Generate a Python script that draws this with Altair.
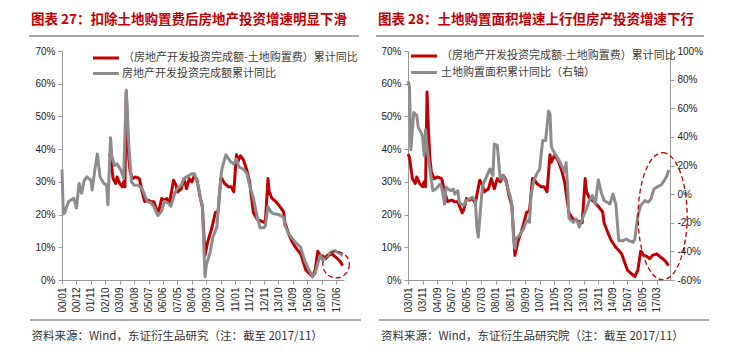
import altair as alt
import pandas as pd

RED = "#C00000"
GRAY = "#8C8C8C"
CJK = "Noto Sans CJK SC"
LAT = "Liberation Sans"

# ---- series A: （房地产开发投资完成额-土地购置费）累计同比 (%), used in both panels
A_DATES = ["2003-01", "2003-02", "2003-04", "2003-06", "2003-07", "2003-09", "2003-11", "2003-12",
           "2004-01", "2004-02", "2004-03", "2004-04", "2004-05", "2004-07", "2004-09", "2004-12",
           "2005-02", "2005-04", "2005-07", "2005-09", "2005-11", "2006-02", "2006-03", "2006-05",
           "2006-07", "2006-09", "2006-11", "2007-02", "2007-04", "2007-05", "2007-08", "2007-10",
           "2007-12", "2008-02", "2008-04", "2008-06", "2008-08", "2008-10", "2008-12", "2009-01",
           "2009-02", "2009-04", "2009-07", "2009-10", "2009-12", "2010-02", "2010-03", "2010-05",
           "2010-08", "2010-10", "2010-12", "2011-02", "2011-03", "2011-05", "2011-07", "2011-08",
           "2011-10", "2011-12", "2012-02", "2012-03", "2012-06", "2012-09", "2012-12", "2013-02",
           "2013-03", "2013-05", "2013-08", "2013-11", "2014-02", "2014-03", "2014-06", "2014-08",
           "2014-11", "2015-03", "2015-05", "2015-07", "2015-09", "2015-12", "2016-02", "2016-04",
           "2016-06", "2016-08", "2016-10", "2016-12", "2017-03", "2017-05", "2017-07", "2017-09",
           "2017-11"]
A_VALS = [38.5, 37.5, 31, 29.5, 31.5, 29.5, 28.5, 30,
          28.5, 57.5, 46, 37, 33, 31, 31.5, 31,
          27, 24, 24.4, 23.9, 23.9, 20.5, 21.3, 24.9,
          24.4, 24.9, 23.5, 30.5, 29, 26.9, 27.9, 31,
          27.9, 31, 30, 32, 30.5, 25.9, 22.5, 14.7,
          7.5, 11.5, 15.5, 20.7, 21, 31, 31, 29.5,
          28.5, 28.5, 27, 38.3, 36, 38, 37, 36,
          33.5, 30, 23.5, 20.5, 18.5, 18, 17.5, 31,
          27, 25, 24, 22.5, 20.8, 17.5, 14, 12,
          10, 8, 5.5, 3, 2.2, 1.0, 3.0, 8.8,
          7.5, 7.3, 6.5, 7.5, 8.0, 7.2, 6.5, 5.7,
          4.4]

# ---- series B: 房地产开发投资完成额累计同比 (%)
B_DATES = ["2000-01", "2000-02", "2000-03", "2000-06", "2000-10", "2000-12", "2001-02", "2001-04",
           "2001-06", "2001-08", "2001-11", "2001-12", "2002-02", "2002-04", "2002-06", "2002-09",
           "2002-11", "2002-12", "2003-02", "2003-03", "2003-05", "2003-07", "2003-10", "2003-12",
           "2004-02", "2004-04", "2004-06", "2004-08", "2004-11", "2005-02", "2005-04", "2005-06",
           "2005-09", "2005-11", "2006-02", "2006-05", "2006-07", "2006-10", "2006-12", "2007-03",
           "2007-05", "2007-08", "2007-10", "2008-02", "2008-04", "2008-06", "2008-09", "2008-11",
           "2008-12", "2009-02", "2009-03", "2009-06", "2009-08", "2009-11", "2010-02", "2010-03",
           "2010-06", "2010-08", "2010-10", "2010-12", "2011-02", "2011-04", "2011-07", "2011-10",
           "2011-12", "2012-03", "2012-06", "2012-08", "2012-11", "2012-12", "2013-02", "2013-04",
           "2013-06", "2013-10", "2014-02", "2014-03", "2014-06", "2014-09", "2014-11", "2015-03",
           "2015-06", "2015-09", "2015-12", "2016-02", "2016-04", "2016-06", "2016-08", "2016-10",
           "2017-02", "2017-05", "2017-07", "2017-09", "2017-11"]
B_VALS = [33.8, 20.2, 20.5, 24, 25, 22, 29.5, 26.5,
          30.5, 31.5, 30.5, 27.5, 33.6, 38.5, 31.5, 29.5,
          29, 23, 43.5, 38, 35, 35.5, 33.5, 31,
          58, 41, 30, 29, 29, 28, 26, 24,
          23.5, 22.5, 19.7, 21, 24, 23.5, 22.5, 26.5,
          28, 29, 31, 32, 32.5, 32.5, 28.6, 24,
          22.5, 1.0, 4.5, 8.5, 13, 16, 31, 34,
          38.3, 37, 36, 35.5, 37, 34.5, 34, 32.5,
          29, 25, 19, 16, 16, 16.5, 22.5, 21,
          20.3, 20, 19.2, 16.7, 14, 12.5, 11.5, 10,
          6, 3.4, 1.0, 2, 5, 7.5, 6, 7,
          8.5, 9, 8.5, 8, 7.5]

# ---- series C: 土地购置面积累计同比 (%, right axis)
C_DATES = ["2003-01", "2003-02", "2003-03", "2003-05", "2003-07", "2003-08", "2003-10", "2003-11",
           "2003-12", "2004-01", "2004-02", "2004-04", "2004-06", "2004-08", "2004-11", "2004-12",
           "2005-02", "2005-03", "2005-06", "2005-08", "2005-09", "2005-11", "2005-12", "2006-03",
           "2006-05", "2006-07", "2006-09", "2006-11", "2006-12", "2007-01", "2007-03", "2007-04",
           "2007-07", "2007-09", "2007-11", "2007-12", "2008-02", "2008-04", "2008-06", "2008-08",
           "2008-11", "2008-12", "2009-01", "2009-02", "2009-03", "2009-05", "2009-08", "2009-10",
           "2009-12", "2010-01", "2010-03", "2010-05", "2010-07", "2010-09", "2010-11", "2011-01",
           "2011-02", "2011-03", "2011-05", "2011-08", "2011-10", "2011-12", "2012-01", "2012-02",
           "2012-03", "2012-06", "2012-08", "2012-10", "2012-12", "2013-03", "2013-05", "2013-07",
           "2013-09", "2013-11", "2014-01", "2014-03", "2014-05", "2014-07", "2014-09", "2014-11",
           "2015-01", "2015-04", "2015-06", "2015-08", "2015-11", "2015-12", "2016-02", "2016-04",
           "2016-07", "2016-09", "2016-11", "2017-01", "2017-04", "2017-06", "2017-08", "2017-10",
           "2017-11"]
C_VALS = [79, 75, 31, 57, 55, 47, 43, 40,
          27, 45, 32, 17.6, 2.4, 3.6, 7, 4.8,
          -7, 4.8, 2.4, 3.6, 0, 2.4, -5.7, -8,
          -4.5, -3.3, -2.2, -4.5, -22, -30, -5.7, 5.9,
          12.9, 17.6, 12.9, 35, 34, 10.6, 12.9, 8.2,
          -2.2, -8, -29, -38, -31, -29, -24.3, -18.5,
          -19.6, -1, 9.4, 14, 17.6, 37.4, 37.4, 58,
          56, 33, 29, 24, 20, 15.3, 22, 6,
          -17, -19.7, -17.4, -23, -17.4, -10.3, -4.5, -1,
          -6.9, 10, 1.3, -4.5, -5.7, -6.9, 0, -6.9,
          -32.5, -32.5, -31.3, -32.5, -33.6, -31.3, -15, -8,
          -4.5, -5.7, -3.4, 3.6, 5.5, 6.4, 9.4, 13,
          17]

LEFT_TICKS = ["00/01", "00/12", "01/11", "02/10", "03/09", "04/08", "05/07", "06/06", "07/05", "08/04",
              "09/03", "10/02", "11/01", "11/12", "12/11", "13/10", "14/09", "15/08", "16/07", "17/06"]
RIGHT_TICKS = ["03/01", "03/11", "04/09", "05/07", "06/05", "07/03", "08/01", "08/11", "09/09",
               "10/07", "11/05", "12/03", "13/01", "13/11", "14/09", "15/07", "16/05", "17/03"]
Y_LEFT_TICKS = [0, 10, 20, 30, 40, 50, 60, 70]
Y_RIGHT_TICKS = [-60, -40, -20, 0, 20, 40, 60, 80, 100]

NAME_A = "（房地产开发投资完成额-土地购置费）累计同比"
NAME_B = "房地产开发投资完成额累计同比"
NAME_C = "土地购置面积累计同比（右轴）"
TITLE_L = "图表 27：扣除土地购置费后房地产投资增速明显下滑"
TITLE_R = "图表 28：土地购置面积增速上行但房产投资增速下行"
FOOT_L = "资料来源：Wind，东证衍生品研究（注：截至 2017/11）"
FOOT_R = "资料来源：Wind，东证衍生品研究院（注：截至 2017/11）"

# highlight ellipses (data coords)
ANNOT_L = {"date": ["2017-06"], "value": [4.7]}
ANNOT_R = {"date": ["2017-07"], "value": [19.5]}


def to_df(dates, vals):
    return pd.DataFrame({"date": [d.replace("-", "/") + "/01" for d in dates], "value": vals})


def dt(label):
    yy, mm = label.split("/")
    return alt.DateTime(year=2000 + int(yy), month=int(mm), date=1)


def xaxis(ticks):
    return alt.Axis(values=[dt(t) for t in ticks], format="%y/%m", labelAngle=270, labelAlign="right",
                    labelBaseline="middle", labelFont=LAT, labelFontSize=10, labelColor="#222222",
                    labelPadding=3, labelOverlap=False, labelFlush=False, domainColor="#999999",
                    tickColor="#999999", tickSize=4, grid=False, title=None)


def yaxis(ticks, orient="left"):
    return alt.Axis(values=ticks, labelExpr="datum.value + '%'", orient=orient, labelFont=LAT,
                    labelFontSize=10, labelColor="#222222", labelPadding=3, domainColor="#999999",
                    tickColor="#999999", tickSize=4, grid=False, title=None, labelFlush=False)


def line(df, color, xs, xa, ys, ya):
    return alt.Chart(df).mark_line(color=color, strokeWidth=3, strokeJoin="round").encode(
        x=alt.X("date:T", scale=xs, axis=xa),
        y=alt.Y("value:Q", scale=ys, axis=ya),
    )


def ellipse(d, xs, xa, ys, ya, path, size):
    df = to_df(d["date"], d["value"])
    return alt.Chart(df).mark_point(shape=path, size=size, filled=False, color=RED, opacity=1,
                                    strokeWidth=1.3, strokeDash=[5, 3]).encode(
        x=alt.X("date:T", scale=xs, axis=xa),
        y=alt.Y("value:Q", scale=ys, axis=ya),
    )


def one():
    return pd.DataFrame({"k": [0]})


def text(txt, x, y, size, color, weight="normal"):
    return alt.Chart(one()).mark_text(align="left", baseline="middle", font=CJK, fontSize=size,
                                      fontWeight=weight, color=color).encode(
        x=alt.value(x), y=alt.value(y), text=alt.value(txt))


def hrule(x1, x2, y, color, width):
    return alt.Chart(one()).mark_rule(color=color, strokeWidth=width).encode(
        x=alt.value(x1), x2=alt.value(x2), y=alt.value(y))


H = 229
# ---------------- left panel ----------------
WL = 282
xs_l = alt.Scale(domain=[alt.DateTime(year=2000, month=1, date=1), alt.DateTime(year=2017, month=12, date=1)])
ys_l = alt.Scale(domain=[0, 70], nice=False)
xa_l = xaxis(LEFT_TICKS)
ya_l = yaxis(Y_LEFT_TICKS)

left = alt.layer(
    line(to_df(A_DATES, A_VALS), RED, xs_l, xa_l, ys_l, ya_l),
    line(to_df(B_DATES, B_VALS), GRAY, xs_l, xa_l, ys_l, ya_l),
    ellipse(ANNOT_L, xs_l, xa_l, ys_l, ya_l, "circle", 700),
    hrule(-33, 297, -15, "#555555", 1.2),
    text(TITLE_L, -31, -31, 13.5, RED, "bold"),
    hrule(31, 57, 7, RED, 3),
    text(NAME_A, 61, 7, 11, "#404040"),
    hrule(31, 57, 22.5, GRAY, 3),
    text(NAME_B, 60, 22.5, 11, "#404040"),
    hrule(-32, 299, 269, "#555555", 1.2),
    text(FOOT_L, -30.5, 286, 11.5, "#333333"),
).properties(width=WL, height=H)

# ---------------- right panel ----------------
WR = 262
xs_r = alt.Scale(domain=[alt.DateTime(year=2003, month=1, date=1), alt.DateTime(year=2017, month=12, date=1)])
ys_r1 = alt.Scale(domain=[0, 70], nice=False)
ys_r2 = alt.Scale(domain=[-60, 100], nice=False)
xa_r = xaxis(RIGHT_TICKS)
ellipse_path = ("M 0 -1 C 0.2132 -1 0.386 -0.5523 0.386 0 C 0.386 0.5523 0.2132 1 0 1 "
                "C -0.2132 1 -0.386 0.5523 -0.386 0 C -0.386 -0.5523 -0.2132 -1 0 -1 Z")

right = alt.layer(
    line(to_df(A_DATES, A_VALS), RED, xs_r, xa_r, ys_r1, yaxis(Y_LEFT_TICKS)),
    line(to_df(C_DATES, C_VALS), GRAY, xs_r, xa_r, ys_r2, yaxis(Y_RIGHT_TICKS, "right")),
    ellipse(ANNOT_R, xs_r, xa_r, alt.Scale(domain=[0, 70], nice=False), None, ellipse_path, 16129),
    hrule(-32, 296, -15, "#555555", 1.2),
    text(TITLE_R, -30, -31, 13.5, RED, "bold"),
    hrule(3, 29, 5, RED, 3),
    text(NAME_A, 33, 5, 11, "#404040"),
    hrule(3, 29, 21.5, GRAY, 3),
    text(NAME_C, 33, 21.5, 11, "#404040"),
    hrule(-29, 301, 269, "#555555", 1.2),
    text(FOOT_R, -27, 286, 11.5, "#333333"),
).resolve_scale(y="independent").properties(width=WR, height=H)

chart = alt.hconcat(left, right, spacing=13).properties(
    padding={"left": 20, "top": 5, "right": 5, "bottom": 5}
).configure_view(stroke=None)

chart.save("out.html", embed_options={"renderer": "svg", "actions": False})
